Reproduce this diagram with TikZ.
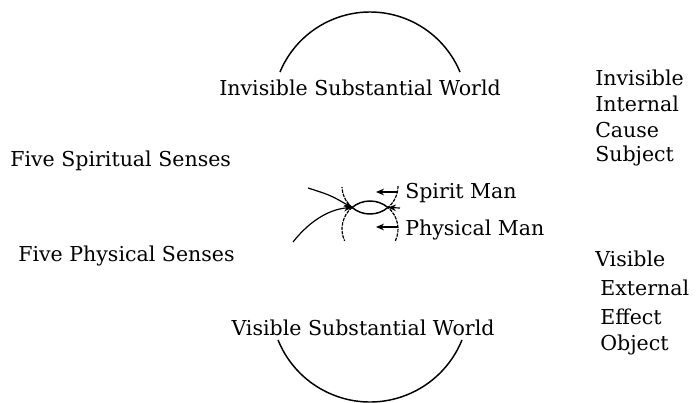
\documentclass[tikz,border=0pt]{standalone}
\usepackage{fontspec}
\setmainfont{DejaVu Serif}
\usetikzlibrary{arrows.meta}
\tikzset{
  lbl/.style={inner sep=0pt, font=\fontsize{15.4}{18}\selectfont},
  lblw/.style={lbl, anchor=west},
  arcline/.style={line width=1.1pt},
  dashline/.style={line width=0.9pt, dash pattern=on 2.5pt off 0.8pt},
  ptr/.style={line width=0.9pt, -{Stealth[length=6pt,width=5pt]}},
}
\begin{document}
\begin{tikzpicture}[x=0.75pt,y=-0.75pt]
\useasboundingbox (0,0) rectangle (700,403);
% titles
\node[lbl] (topt) at (360,88) {Invisible Substantial World};
\node[lbl] (bott) at (363,328) {Visible Substantial World};
\node[lblw] (fss) at (10,161) {Five Spiritual Senses};
\node[lblw] (fps) at (18,256) {Five Physical Senses};
% right column
\node[lblw] (r1) at (595,78) {Invisible};
\node[lblw] (r2) at (595,104) {Internal};
\node[lblw] (r3) at (595,130) {Cause};
\node[lblw] (r4) at (595,156) {Subject};
\node[lblw] (r5) at (595,259) {Visible};
\node[lblw] (r6) at (600,288) {External};
\node[lblw] (r7) at (600,317) {Effect};
\node[lblw] (r8) at (600,345) {Object};
% man labels
\node[lblw] (sm) at (405,193) {Spirit Man};
\node[lblw] (pm) at (405,230) {Physical Man};
% arcs
\coordinate (tc) at (370,109.5);
\coordinate (bc) at (370,302.8);
\draw[arcline] (tc) ++(202.6:97.5) coordinate (ta) arc[start angle=202.6,end angle=337.4,radius=97.5] coordinate (tb);
\draw[arcline] (bc) ++(158:99.2) coordinate (ba) arc[start angle=158,end angle=22,radius=99.2] coordinate (bb);
% two circles
\coordinate (c1) at (370,186);
\coordinate (c2) at (370,229);
\coordinate (L) at (352,207.5);
\coordinate (R) at (388,207.5);
\draw[dashline] (c1) ++(0:28) arc[start angle=0,end angle=50,radius=28];
\draw[arcline] (c1) ++(50:28) arc[start angle=50,end angle=130,radius=28];
\draw[dashline] (c1) ++(130:28) arc[start angle=130,end angle=178,radius=28];
\draw[dashline] (c2) ++(25:28) arc[start angle=25,end angle=-50,radius=28];
\draw[arcline] (c2) ++(-50:28) arc[start angle=-50,end angle=-130,radius=28];
\draw[dashline] (c2) ++(-130:28) arc[start angle=-130,end angle=-205,radius=28];
% lines into left node
\coordinate (l1) at (308,188);
\coordinate (l2) at (293,242);
\draw[ptr] (l1) .. controls (330,195) .. (L);
\draw[ptr] (l2) .. controls (312,218) and (332,209) .. (L);
% arrows from labels
\coordinate (sa) at (398,192);
\coordinate (sb) at (376,192);
\draw[ptr] (sa) -- (sb);
\coordinate (rs) at (400,208);
\draw[ptr] (rs) -- (R);
\coordinate (pa) at (398,227);
\coordinate (pb) at (376,227);
\draw[ptr] (pa) -- (pb);
\end{tikzpicture}
\end{document}
